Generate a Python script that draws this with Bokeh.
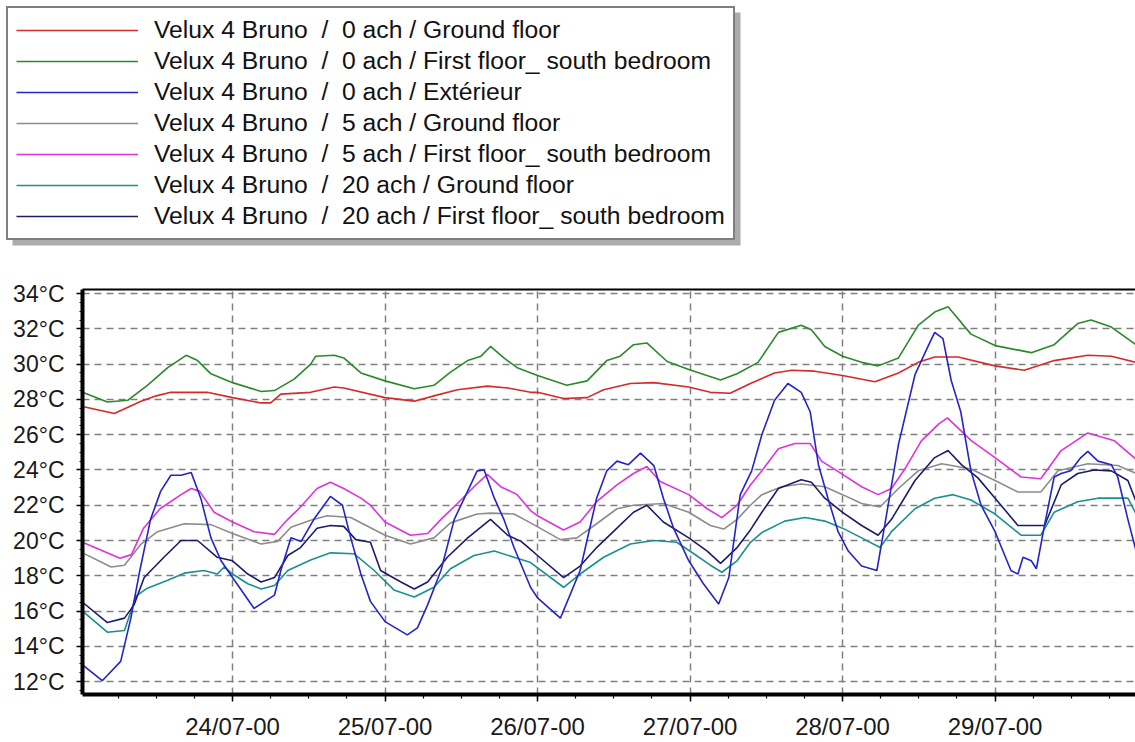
from bokeh.plotting import figure
from bokeh.layouts import column
from bokeh.models import Range1d, FixedTicker, Legend, LegendItem, LinearAxis, BoxAnnotation
from bokeh.embed import file_html
from bokeh.resources import INLINE

# ---------------- data (hours since 23/07 00:00, temperature in °C) ----------------
labels = [
    "Velux 4 Bruno  /  0 ach / Ground floor",
    "Velux 4 Bruno  /  0 ach / First floor_ south bedroom",
    "Velux 4 Bruno  /  0 ach / Extérieur",
    "Velux 4 Bruno  /  5 ach / Ground floor",
    "Velux 4 Bruno  /  5 ach / First floor_ south bedroom",
    "Velux 4 Bruno  /  20 ach / Ground floor",
    "Velux 4 Bruno  /  20 ach / First floor_ south bedroom",
]

red_h = [0.4, 5.4, 9.6, 12, 14.3, 20, 24, 28.5, 30, 31.6, 36.3, 40, 41.5, 48, 52.6, 55.7, 59.4, 64.1, 67.3, 70.9,
         72, 76.1, 79.8, 82.4, 86.6, 90.3, 95.8, 99.2, 102.3, 105.5, 109.3, 112, 115.6, 120, 125.1, 128.8, 131.9,
         134.5, 138.2, 144, 148.6, 153.3, 158.6, 162.3, 166.2]
red_t = [27.6, 27.2, 27.9, 28.2, 28.4, 28.4, 28.1, 27.8, 27.8, 28.3, 28.4, 28.7, 28.65, 28.1, 27.9, 28.2, 28.55, 28.75,
         28.65, 28.4, 28.4, 28.05, 28.1, 28.55, 28.9, 28.95, 28.7, 28.4, 28.35, 28.9, 29.5, 29.65, 29.6, 29.35, 29.0,
         29.5, 30.1, 30.4, 30.4, 29.9, 29.65, 30.2, 30.5, 30.45, 30.1]

green_h = [0.4, 4.3, 7.5, 10.6, 13.8, 16.7, 18.5, 20.6, 24, 28.5, 30.6, 33.7, 36.3, 37.1, 40, 41.5, 44.2, 48, 52.6,
           55.7, 58.3, 61, 63.1, 64.6, 66.7, 68.8, 72, 76.6, 79.8, 82.9, 85, 87.1, 89.2, 92.4, 95.8, 100.8, 103.4,
           106.7, 109.9, 113.5, 115.1, 117.2, 120, 123, 125.6, 128.8, 131.9, 134.5, 136.6, 140.2, 144, 149.7, 153.3,
           157, 159.1, 162.3, 166.2]
green_t = [28.4, 27.85, 27.95, 28.8, 29.8, 30.5, 30.2, 29.45, 28.95, 28.45, 28.5, 29.15, 30.0, 30.45, 30.5, 30.35,
           29.5, 29.05, 28.6, 28.8, 29.55, 30.2, 30.45, 31.0, 30.35, 29.8, 29.35, 28.8, 29.05, 30.2, 30.45, 31.1, 31.2,
           30.15, 29.7, 29.1, 29.45, 30.1, 31.8, 32.2, 31.95, 31.0, 30.45, 30.1, 29.9, 30.35, 32.2, 32.95, 33.25, 31.7,
           31.05, 30.65, 31.1, 32.3, 32.5, 32.1, 31.1]

blue_h = [0.4, 3.5, 6.4, 8, 9.3, 11.1, 12.7, 14.3, 15.9, 17.5, 19, 20.6, 22.2, 24, 27.4, 30.6, 31.6, 33.2, 34.8, 36.8,
          39.4, 41.3, 42.6, 44.2, 45.7, 48, 51.5, 53.1, 54.7, 56.8, 58.9, 61, 62.5, 63.6, 65.2, 66.7, 68.3, 70.9, 72,
          75.6, 78.7, 81.3, 82.9, 84.5, 86.3, 88.2, 90.3, 91.8, 93.4, 95.8, 98.1, 100.5, 102.1, 103.9, 105.7, 107.3,
          109.3, 111.4, 113.5, 114.9, 116.2, 117.7, 119.3, 120.9, 123, 125.4, 126.7, 128.8, 131.4, 133.5, 134.5,
          135.8, 137.1, 138.6, 140.2, 141.8, 144, 146.5, 147.6, 148.4, 149.7, 150.5, 151.8, 153.3, 154.4, 155.9,
          157.5, 158.6, 160.2, 162.3, 163.3, 164.9, 166.2]
blue_t = [12.95, 12.05, 13.15, 15.6, 18.1, 21.2, 22.8, 23.7, 23.7, 23.85, 22.4, 20.15, 18.85, 17.9, 16.15, 16.9, 18.3,
          20.15, 19.95, 21.2, 22.5, 22.0, 20.15, 18.1, 16.55, 15.4, 14.65, 15.05, 16.35, 18.3, 21.2, 22.8, 23.95, 24.0,
          22.4, 21.2, 19.6, 17.35, 16.75, 15.6, 18.3, 22.4, 23.95, 24.5, 24.3, 24.95, 24.25, 22.4, 20.7, 18.85, 17.55,
          16.4, 17.9, 22.6, 23.95, 26.0, 27.95, 28.9, 28.4, 27.3, 24.3, 22.4, 20.5, 19.4, 18.55, 18.3, 21.0, 25.45,
          29.4, 31.05, 31.8, 31.45, 29.07, 27.3, 23.95, 22.0, 20.5, 18.3, 18.1, 19.05, 18.85, 18.4, 20.9, 23.6, 23.8,
          23.95, 24.7, 25.05, 24.5, 24.3, 23.6, 21.2, 19.4]

grey_h = [0.4, 4.9, 7, 9.6, 12.2, 16.4, 20.6, 24, 28.5, 31.1, 33.2, 36.3, 38.9, 42.6, 48, 52, 55.7, 58.3, 62.5, 64.6,
          68.3, 70.9, 75.6, 78.2, 81.3, 84.5, 87.1, 91.8, 95.8, 99.2, 101.3, 103.4, 105.5, 107.3, 110.4, 113.5, 117.2,
          120, 123, 125.9, 128.8, 131.9, 135.6, 140.2, 144, 147.6, 151.2, 153.9, 158.6, 163.3, 166.2]
grey_t = [19.3, 18.5, 18.6, 19.8, 20.5, 20.95, 20.9, 20.4, 19.8, 19.95, 20.75, 21.15, 21.4, 21.3, 20.3, 19.8, 20.15,
          21.0, 21.5, 21.55, 21.5, 21.0, 20.05, 20.15, 20.95, 21.8, 22.0, 22.1, 21.6, 20.85, 20.65, 21.2, 22.0, 22.6,
          23.05, 23.2, 23.05, 22.6, 22.1, 21.9, 22.95, 23.95, 24.35, 24.05, 23.4, 22.75, 22.75, 23.95, 24.35, 24.25,
          23.8]

magenta_h = [0.4, 6.3, 8.1, 10, 12.6, 15.9, 17.5, 18.8, 21.1, 24, 27.4, 30.6, 32.7, 34.7, 37.3, 39.4, 41.5, 44.2,
             45.7, 48, 52, 54.7, 56.8, 59.4, 62, 64.1, 66.2, 68.8, 70.9, 72, 76.1, 78.7, 81.3, 84.5, 87.1, 89.2, 91.3,
             95.8, 98.7, 101, 103.4, 105.5, 107.3, 109.9, 112.5, 114.9, 116.7, 120, 123, 125.6, 127.7, 129.8, 132.4,
             135.1, 136.5, 138.7, 140.3, 144, 148.1, 151.2, 154.4, 158.6, 162.8, 166.2]
magenta_t = [19.9, 19.0, 19.2, 20.7, 21.8, 22.6, 22.95, 22.8, 21.6, 21.05, 20.5, 20.35, 21.2, 21.9, 22.95, 23.3, 22.95,
             22.4, 22.0, 21.05, 20.3, 20.4, 21.2, 22.1, 23.05, 23.75, 23.05, 22.6, 21.7, 21.4, 20.6, 21.05, 22.2, 23.15,
             23.8, 24.2, 23.35, 22.6, 21.8, 21.3, 22.0, 23.15, 23.95, 25.2, 25.5, 25.5, 24.5, 23.75, 23.05, 22.6, 22.95,
             24.05, 25.65, 26.6, 26.95, 26.2, 25.65, 24.7, 23.6, 23.5, 25.1, 26.1, 25.65, 24.6]

teal_h = [0.4, 4.3, 7, 8.8, 10.6, 13.8, 16.4, 19.5, 21.6, 22.7, 24, 26.4, 28.5, 30.6, 32.7, 36.3, 39.4, 43.1, 46.3,
          49.4, 52.6, 55.7, 58.3, 62, 65.2, 68.3, 70.9, 76.1, 78.7, 82.4, 86.6, 90.3, 93.9, 96.6, 99.2, 101, 103.4,
          105.5, 107.3, 110.9, 114.1, 117.2, 120, 123, 125.9, 127.7, 131.4, 134.5, 137.4, 140.2, 144, 148.1, 151.2,
          153.3, 157, 160.2, 164.9, 166.2]
teal_t = [16.0, 14.8, 14.9, 16.85, 17.3, 17.75, 18.15, 18.3, 18.1, 18.5, 18.1, 17.55, 17.25, 17.45, 18.3, 18.9, 19.3,
          19.25, 18.3, 17.2, 16.8, 17.35, 18.4, 19.15, 19.4, 19.05, 18.75, 17.35, 18.1, 19.05, 19.8, 20.0, 19.9, 19.25,
          18.6, 18.2, 18.85, 19.9, 20.45, 21.1, 21.3, 21.1, 20.7, 20.15, 19.6, 20.5, 21.8, 22.4, 22.6, 22.3, 21.5, 20.3,
          20.3, 21.6, 22.2, 22.4, 22.4, 21.5]

navy_h = [0.4, 4.3, 7, 8.5, 10.1, 13.2, 15.9, 18.5, 21.6, 24, 26.4, 28.5, 30.6, 32.7, 34.7, 37.3, 39.4, 41.5, 43.4,
          45.7, 47.3, 50.5, 52.6, 54.7, 57.8, 61, 64.6, 67.3, 69.4, 70.9, 72, 76.1, 78.7, 81.3, 84.5, 87.1, 89.2, 91.8,
          95.8, 98.7, 100.8, 103.4, 105.5, 107.3, 109.9, 113.5, 115.1, 117.2, 120, 123, 125.6, 127.7, 131.4, 134.5,
          136.6, 138.7, 141.3, 144, 147.6, 151.8, 154.4, 157, 159.6, 162.3, 164.9, 166.2]
navy_t = [16.5, 15.35, 15.6, 16.35, 17.9, 19.05, 20.0, 20.0, 19.05, 18.85, 18.1, 17.65, 17.9, 19.15, 19.6, 20.7, 20.85,
          20.8, 20.05, 19.9, 18.3, 17.65, 17.25, 17.65, 19.05, 20.15, 21.2, 20.3, 19.95, 19.5, 19.15, 17.9, 18.55, 19.6,
          20.7, 21.6, 22.0, 21.05, 20.15, 19.4, 18.7, 19.6, 20.6, 21.6, 22.95, 23.45, 23.3, 22.4, 21.6, 20.85, 20.3,
          21.2, 23.4, 24.7, 25.1, 24.3, 23.55, 22.4, 20.85, 20.85, 23.15, 23.8, 24.0, 23.95, 23.4, 22.2]

date_ticks = [24, 48, 72, 96, 120, 144]
date_labels = ["24/07-00", "25/07-00", "26/07-00", "27/07-00", "28/07-00", "29/07-00"]
temp_ticks = [12, 14, 16, 18, 20, 22, 24, 26, 28, 30, 32, 34]
temp_labels = ["12°C", "14°C", "16°C", "18°C", "20°C", "22°C", "24°C", "26°C", "28°C", "30°C", "32°C", "34°C"]

colors = ["#d42a2a", "#2a8a2a", "#2424c8", "#8c8c8c", "#dd33dd", "#1a9090", "#1c1c6e"]

series = [(red_h, red_t), (green_h, green_t), (blue_h, blue_t), (grey_h, grey_t),
          (magenta_h, magenta_t), (teal_h, teal_t), (navy_h, navy_t)]

FONT = "Liberation Sans"
W = 1135
LEG_H = 270

# ---------------- legend panel (separate figure on top) ----------------
lf = figure(width=W, height=LEG_H, output_backend="svg", toolbar_location=None,
            x_axis_type=None, y_axis_type=None, min_border=0)
lf.frame_align = False
lf.outline_line_color = None
lf.xgrid.visible = False
lf.ygrid.visible = False
lrends = []
for i in range(7):
    xs, ys = series[i]
    r = lf.line(xs, ys, line_color=colors[i], line_width=1.6)
    r.visible = False
    lrends.append(r)

# drop shadow (screen units; vertical values are measured from the panel bottom)
shadow = BoxAnnotation(left=12, right=740, top=LEG_H - 12, bottom=LEG_H - 245,
                       left_units="screen", right_units="screen", top_units="screen", bottom_units="screen",
                       fill_color="#5a5a5a", fill_alpha=0.5, line_color=None)
lf.add_layout(shadow)

legend = Legend(items=[LegendItem(label=labels[i], renderers=[lrends[i]]) for i in range(7)],
                location="top_left", margin=6, glyph_width=122, glyph_height=20, label_height=27,
                label_standoff=16, padding=8, spacing=3,
                label_text_font=FONT, label_text_font_size="24.7px", label_text_color="#111111",
                border_line_color="black", border_line_width=2,
                background_fill_color="white", background_fill_alpha=1.0,
                inactive_fill_alpha=0.0)
lf.add_layout(legend, "center")

# ---------------- main chart ----------------
p = figure(width=W, height=742 - LEG_H, output_backend="svg", toolbar_location=None,
           x_range=Range1d(0.39, 166.1), y_range=Range1d(11.27, 34.23),
           min_border_left=82, min_border_top=289 - LEG_H, min_border_right=0, min_border_bottom=46)
p.outline_line_color = None
p.background_fill_color = "white"
p.border_fill_color = "white"

draw_order = [0, 1, 3, 4, 5, 6, 2]
for i in draw_order:
    xs, ys = series[i]
    p.line(xs, ys, line_color=colors[i], line_width=1.6)

minor_x = list(range(6, 167, 6))
p.xaxis.ticker = FixedTicker(ticks=date_ticks, minor_ticks=minor_x)
p.xaxis.major_label_overrides = dict(zip(date_ticks, date_labels))
minor_y = [v / 2 for v in range(23, 69)]
p.yaxis.ticker = FixedTicker(ticks=temp_ticks, minor_ticks=minor_y)
p.yaxis.major_label_overrides = dict(zip(temp_ticks, temp_labels))

for ax in (p.xaxis[0], p.yaxis[0]):
    ax.axis_line_width = 4
    ax.axis_line_color = "black"
    ax.major_tick_line_color = "black"
    ax.minor_tick_line_color = "black"
    ax.major_tick_line_width = 1.5
    ax.minor_tick_line_width = 1.2
    ax.major_tick_in = 0
    ax.minor_tick_in = 0
    ax.major_label_text_font = FONT
    ax.major_label_text_color = "#1a1a1a"
p.xaxis.major_label_text_font_size = "24px"
p.yaxis.major_label_text_font_size = "23px"
p.xaxis.major_tick_out = 7
p.xaxis.minor_tick_out = 4
p.xaxis.major_label_standoff = 11
p.yaxis.major_tick_out = 6
p.yaxis.minor_tick_out = 3
p.yaxis.major_label_standoff = 12

top_axis = LinearAxis(ticker=FixedTicker(ticks=[]), axis_line_width=2, axis_line_color="black",
                      major_tick_line_color=None, minor_tick_line_color=None,
                      major_tick_out=0, minor_tick_out=0, major_label_standoff=0,
                      major_label_text_font_size="0px")
p.add_layout(top_axis, "above")

p.xgrid.ticker = FixedTicker(ticks=date_ticks)
p.ygrid.ticker = FixedTicker(ticks=temp_ticks)
for g in (p.xgrid[0], p.ygrid[0]):
    g.grid_line_color = "#808080"
    g.grid_line_dash = "7 5"
    g.grid_line_width = 1.5

layout = column(lf, p, spacing=0)
open("out.html", "w").write(file_html(layout, INLINE))
